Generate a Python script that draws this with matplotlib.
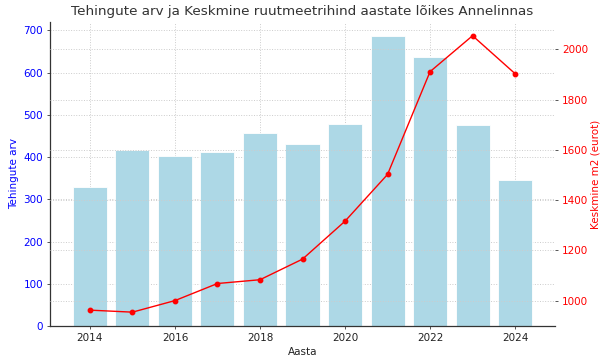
import matplotlib
matplotlib.use("Agg")
import matplotlib.pyplot as plt

years = [2014, 2015, 2016, 2017, 2018, 2019, 2020, 2021, 2022, 2023, 2024]
deals = [330, 418, 403, 413, 456, 430, 479, 686, 636, 475, 346]
price_m2 = [962, 954, 1000, 1068, 1083, 1165, 1316, 1502, 1911, 2054, 1903]

fig, ax1 = plt.subplots(figsize=(6.02, 3.59), dpi=100)
fig.subplots_adjust(left=0.083, right=0.922, top=0.939, bottom=0.092)

ax1.bar(years, deals, width=0.8, color="#ADD8E6", edgecolor="white", linewidth=0.6, zorder=2)
ax1.set_xlabel("Aasta", fontsize=7.5, color="#222222", labelpad=3)
ax1.set_ylabel("Tehingute arv", color="blue", fontsize=7.5, labelpad=3)
ax1.tick_params(axis="y", labelcolor="blue", color="#555555", length=2.5, width=0.7, labelsize=7.5, pad=2.5)
ax1.tick_params(axis="x", length=2.5, width=0.7, color="#555555", labelsize=7.5, labelcolor="#222222", pad=2.5)
ax1.grid(True, linestyle=":", color="#cccccc", linewidth=0.7, zorder=0)
ax1.set_axisbelow(True)
ax1.set_xticks([2014, 2016, 2018, 2020, 2022, 2024])
for s in ["top", "right"]:
    ax1.spines[s].set_visible(False)
for s in ["left", "bottom"]:
    ax1.spines[s].set_color("#333333")
    ax1.spines[s].set_linewidth(0.9)

ax2 = ax1.twinx()
ax2.plot(years, price_m2, color="red", marker="o", markersize=3.2, linewidth=1.0, zorder=3)
ax2.set_ylabel("Keskmine m2 (eurot)", color="red", fontsize=7.5, labelpad=1.5)
ax2.tick_params(axis="y", labelcolor="red", color="#555555", length=2.5, width=0.7, labelsize=7.5, pad=2.5)
ax2.grid(True, axis="y", linestyle=":", color="#cccccc", linewidth=0.7)
for s in ["top", "right", "left", "bottom"]:
    ax2.spines[s].set_visible(False)

ax1.set_title("Tehingute arv ja Keskmine ruutmeetrihind aastate lõikes Annelinnas", fontsize=9.7, color="#333333", pad=5)

fig.savefig("out.png", dpi=100)
